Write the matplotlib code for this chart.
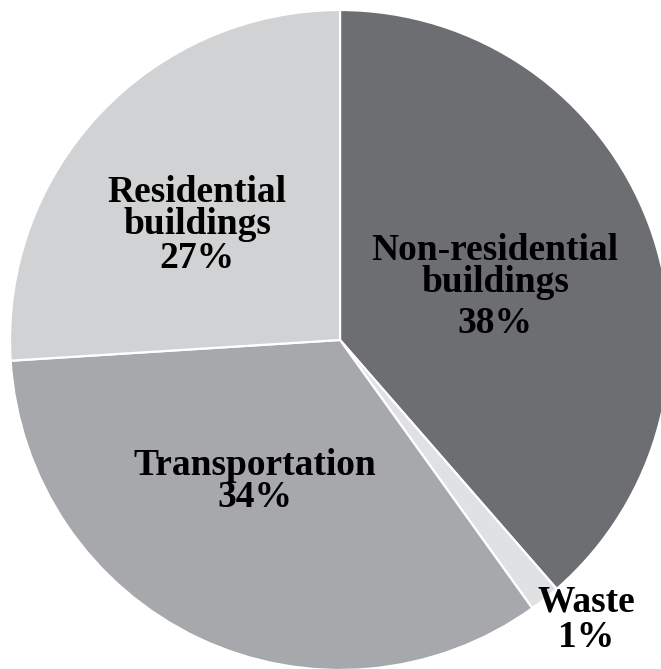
import matplotlib.pyplot as plt

# Datos del gráfico (ángulos medidos en la imagen; etiquetas tal como aparecen)
sectores = ['Non-residential\nbuildings', 'Waste', 'Transportation', 'Residential\nbuildings']
valores = [38.6, 1.5, 33.9, 26.0]
etiquetas_pct = ['38%', '1%', '34%', '27%']
colores = ['#6d6e72', '#e0e1e3', '#a7a8ab', '#d1d2d4']

# posiciones de etiquetas en píxeles: (x centro, línea base 1a línea, línea base del %)
pos_etiquetas = [(495, 260, 333), (586, 612, 647), (255, 475, 507), (197, 202, 268)]
PASO_LINEA = 32

W, H = 661, 669
CX, CY, R = 340, 340, 330

fig = plt.figure(figsize=(W / 100, H / 100), dpi=100)
ax = fig.add_axes([0, 0, 1, 1])
ax.set_axis_off()

ax.pie(valores, colors=colores, startangle=90, counterclock=False,
       radius=1, center=(0, 0),
       wedgeprops=dict(edgecolor='white', linewidth=1.6))

ax.set_xlim(-CX / R, (W - CX) / R)
ax.set_ylim(-(H - CY) / R, CY / R)
ax.set_aspect('auto')

estilo = dict(transform=ax.transAxes, ha='center', va='baseline', fontsize=27,
              fontweight='bold', family='Liberation Serif')

for nombre, pct, (px, py, py_pct) in zip(sectores, etiquetas_pct, pos_etiquetas):
    for i, linea in enumerate(nombre.split('\n')):
        ax.text(px / W, 1 - (py + i * PASO_LINEA) / H, linea, **estilo)
    ax.text(px / W, 1 - py_pct / H, pct, **estilo)

fig.savefig('out.png', dpi=100)
